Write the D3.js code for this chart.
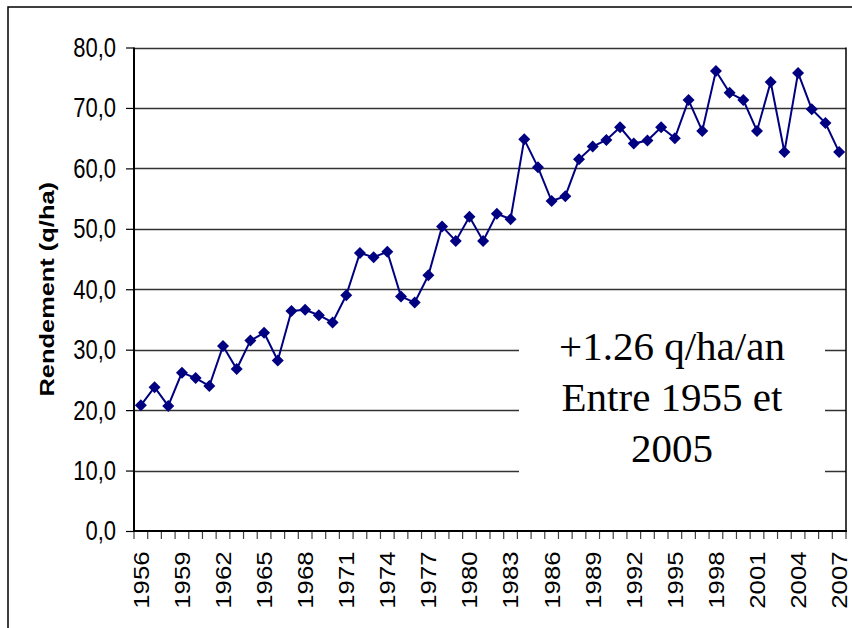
<!DOCTYPE html>
<html lang="fr">
<head>
<meta charset="utf-8">
<title>Rendement (q/ha)</title>
<script src="https://cdn.jsdelivr.net/npm/d3@7"></script>
<style>
  body { margin: 0; background: #fff; }
  svg { display: block; }
</style>
</head>
<body>
<svg></svg>
<script>

    // Data
    const years = d3.range(1956, 2008);
    const yields = [
        20.8, 23.8, 20.7, 26.2, 25.3, 24.0, 30.6, 26.8, 31.5, 32.8,
        28.2, 36.4, 36.6, 35.7, 34.5, 39.0, 46.0, 45.3, 46.2, 38.8,
        37.8, 42.3, 50.4, 48.0, 52.0, 48.0, 52.5, 51.6, 64.8, 60.2,
        54.6, 55.4, 61.5, 63.6, 64.7, 66.8, 64.1, 64.6, 66.8, 65.0,
        71.3, 66.2, 76.1, 72.5, 71.3, 66.2, 74.3, 62.7, 75.8, 69.8,
        67.5, 62.7
    ];
    const yTicks = [0, 10, 20, 30, 40, 50, 60, 70, 80];
    const xLabelYears = years.filter((d, i) => i % 3 === 0);
    const noteLines = ['+1.26 q/ha/an', 'Entre 1955 et', '2005'];

    const opt = {
        width: 852,
        height: 628,
        plot: { left: 134, right: 846, top: 47.5, bottom: 531 },
        color: '#000080',
        font: '"Liberation Sans", Arial, sans-serif',
        serif: '"Liberation Serif", "Times New Roman", serif'
    };

    const data = years.map((y, i) => ({ year: y, value: yields[i] }));

    let svg = d3.select('svg')
        .attr('width', opt.width)
        .attr('height', opt.height);

    // outer chart frame
    svg.append('rect')
        .attr('x', 8).attr('y', 7)
        .attr('width', 900).attr('height', 700)
        .attr('fill', '#fff')
        .attr('stroke', '#000')
        .attr('stroke-width', 1.5);

    let x = d3.scaleBand()
        .domain(years)
        .range([opt.plot.left, opt.plot.right])
        .padding(0);

    let y = d3.scaleLinear()
        .domain([0, 80])
        .range([opt.plot.bottom, opt.plot.top]);

    // gridlines
    svg.append('g')
        .selectAll('line')
        .data(yTicks.slice(1))
        .enter()
        .append('line')
        .attr('x1', opt.plot.left)
        .attr('x2', opt.plot.right)
        .attr('y1', d => Math.round(y(d)) + 0.5)
        .attr('y2', d => Math.round(y(d)) + 0.5)
        .style('stroke', '#333')
        .style('stroke-width', 1.3);

    // right border of the plot area
    svg.append('line')
        .attr('x1', opt.plot.right).attr('x2', opt.plot.right)
        .attr('y1', opt.plot.top).attr('y2', opt.plot.bottom)
        .style('stroke', '#000')
        .style('stroke-width', 1.5);

    // annotation box (hides the gridlines behind it)
    svg.append('rect')
        .attr('x', 519).attr('y', 315)
        .attr('width', 306).attr('height', 180)
        .attr('fill', '#fff');

    let note = svg.append('text')
        .attr('text-anchor', 'middle')
        .style('font-family', opt.serif)
        .style('font-size', '41px')
        .style('fill', '#000');
    note.selectAll('tspan')
        .data(noteLines)
        .enter()
        .append('tspan')
        .attr('x', 672)
        .attr('y', (d, i) => 360 + i * 51)
        .text(d => d);

    // y axis
    let yAxis = svg.append('g')
        .attr('transform', `translate(${opt.plot.left},0)`)
        .call(d3.axisLeft(y).tickValues(yTicks).tickSize(8).tickPadding(10)
            .tickFormat(d => d3.format('.1f')(d).replace('.', ',')));
    yAxis.select('.domain').remove();
    yAxis.selectAll('.tick line').style('stroke', '#000').style('stroke-width', 1.2);
    yAxis.selectAll('.tick text')
        .attr('x', -18)
        .attr('transform', 'scale(1,1.27)')
        .style('font-family', opt.font)
        .style('font-size', '22px')
        .style('fill', '#000');

    svg.append('line')
        .attr('x1', opt.plot.left).attr('x2', opt.plot.left)
        .attr('y1', opt.plot.top).attr('y2', opt.plot.bottom + 1)
        .style('stroke', '#000').style('stroke-width', 2);

    // x axis: ticks between categories
    let boundaries = years.map(d => x(d)).concat([x(years[years.length - 1]) + x.bandwidth()]);
    svg.append('g')
        .selectAll('line')
        .data(boundaries)
        .enter()
        .append('line')
        .attr('x1', d => d).attr('x2', d => d)
        .attr('y1', opt.plot.bottom)
        .attr('y2', opt.plot.bottom + 8)
        .style('stroke', '#444')
        .style('stroke-width', 1.2);

    let xAxis = svg.append('g')
        .attr('transform', `translate(0,${opt.plot.bottom})`)
        .call(d3.axisBottom(x).tickValues(xLabelYears).tickSize(0));
    xAxis.select('.domain').remove();
    xAxis.selectAll('.tick text')
        .attr('transform', 'rotate(-90) scale(1.17,1)')
        .attr('text-anchor', 'end')
        .attr('x', -17.5)
        .attr('y', 0)
        .attr('dy', '0.36em')
        .style('font-family', opt.font)
        .style('font-size', '22px')
        .style('fill', '#000');

    svg.append('line')
        .attr('x1', opt.plot.left - 1).attr('x2', opt.plot.right + 1)
        .attr('y1', opt.plot.bottom).attr('y2', opt.plot.bottom)
        .style('stroke', '#000').style('stroke-width', 2);

    // y title
    svg.append('text')
        .attr('text-anchor', 'middle')
        .attr('transform', `translate(54,${(opt.plot.top + opt.plot.bottom) / 2}) rotate(-90) scale(1.27,1)`)
        .style('font-family', opt.font)
        .style('font-size', '20px')
        .style('font-weight', 'bold')
        .style('fill', '#000')
        .text('Rendement (q/ha)');

    // series line
    let line = d3.line()
        .x(d => x(d.year) + x.bandwidth() / 2)
        .y(d => y(d.value));

    svg.append('path')
        .datum(data)
        .attr('d', line)
        .style('fill', 'none')
        .style('stroke', opt.color)
        .style('stroke-width', 2);

    // diamond markers
    svg.append('g')
        .selectAll('path')
        .data(data)
        .enter()
        .append('path')
        .attr('d', d3.symbol().type(d3.symbolSquare).size(72))
        .attr('transform', d => `translate(${x(d.year) + x.bandwidth() / 2},${y(d.value)}) rotate(45)`)
        .style('fill', opt.color);

</script>
</body>
</html>
